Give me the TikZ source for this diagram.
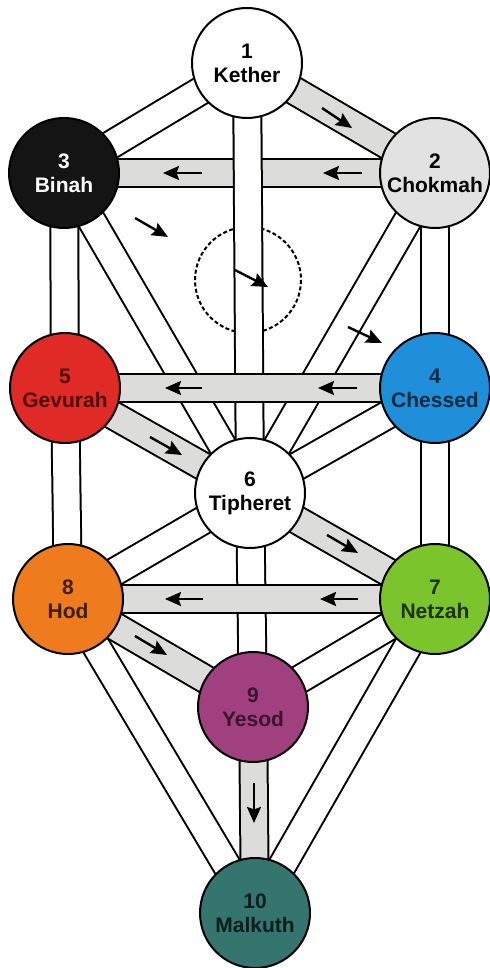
\documentclass[tikz,border=0pt]{standalone}
\usepackage{tikz, xcolor}
\usepackage{fontspec}
\setmainfont{Liberation Sans}
\usetikzlibrary{arrows.meta}
\newcommand{\pathwidth}{13pt}
\definecolor{pathgray}{HTML}{DCDCDA}
\definecolor{chokmahgray}{HTML}{E2E2E2}
\definecolor{binahblack}{HTML}{141414}
\definecolor{gevurahred}{HTML}{E02A26}
\definecolor{chessedblue}{HTML}{1E8FD8}
\definecolor{netzahgreen}{HTML}{7CC42C}
\definecolor{hodorange}{HTML}{EE7C1E}
\definecolor{yesodpurple}{HTML}{A0407E}
\definecolor{malkuthteal}{HTML}{357570}

\begin{document}
\begin{tikzpicture}[x=0.5pt, y=-0.5pt]
\useasboundingbox (0,0) rectangle (490,968);

\coordinate (kether)   at (247,63);
\coordinate (chokmah)  at (435,173);
\coordinate (binah)    at (64,173);
\coordinate (chessed)  at (435,388);
\coordinate (gevurah)  at (65,388);
\coordinate (tipheret) at (250,493);
\coordinate (netzah)   at (435,599);
\coordinate (hod)      at (68,599);
\coordinate (yesod)    at (253,707);
\coordinate (malkuth)  at (255,913);
\coordinate (daath)    at (248,280);

\tikzstyle{channel}=[line width=1pt, double=white, double distance=\pathwidth]
\tikzstyle{litchannel}=[channel, double=pathgray]
\tikzstyle{flash}=[line width=1.2pt, -{Stealth[length=8pt,width=7pt,inset=1.2pt]}]
\tikzstyle{every node}=[draw,
			circle,
			line width=1pt,
			minimum size=55pt,
			inner sep=0pt,
			align=center,
			font=\fontsize{10.5}{12}\selectfont\bfseries
			]


\draw[dash pattern=on 2pt off 1.2pt, line width=1pt] (daath) circle[radius=53];


\draw[litchannel] (chokmah) -- (binah);


\draw[channel] (kether) -- (binah);


\draw[litchannel] (kether) -- (chokmah);


\draw[channel] (kether) -- (tipheret);


\draw[channel] (binah) -- (gevurah);


\draw[channel] (chokmah) -- (chessed);


\draw[channel] (binah) -- (tipheret);


\draw[channel] (chokmah) -- (tipheret);


\draw[litchannel] (gevurah) -- (tipheret);


\draw[channel] (chessed) -- (tipheret);


\draw[litchannel] (chessed) -- (gevurah);


\draw[channel] (gevurah) -- (hod);


\draw[channel] (chessed) -- (netzah);


\draw[channel] (tipheret) -- (hod);


\draw[litchannel] (tipheret) -- (netzah);


\draw[channel] (tipheret) -- (yesod);


\draw[litchannel] (netzah) -- (hod);


\draw[channel] (hod) -- (malkuth);


\draw[channel] (netzah) -- (malkuth);


\draw[litchannel] (hod) -- (yesod);


\draw[channel] (netzah) -- (yesod);


\draw[litchannel] (yesod) -- (malkuth);


\draw[flash] (322,108) -- (352,128);

\draw[flash] (362,173) -- (323,173);

\draw[flash] (202,173) -- (163,173);

\draw[flash] (135,218) -- (168,237);

\draw[flash] (235,270) -- (268,287);

\draw[flash] (348,327) -- (382,343);

\draw[flash] (357,388) -- (318,388);

\draw[flash] (202,388) -- (165,388);

\draw[flash] (150,437) -- (182,455);

\draw[flash] (327,535) -- (358,553);

\draw[flash] (358,599) -- (320,599);

\draw[flash] (203,599) -- (165,599);

\draw[flash] (135,636) -- (167,655);

\draw[flash] (254,783) -- (254,823);


\node[fill=white] (s1) at (kether) {1\\Kether};

\node[fill=chokmahgray] (s2) at (chokmah) {2\\Chokmah};

\node[fill=binahblack, text=white] (s3) at (binah) {3\\Binah};

\node[fill=chessedblue, text=chessedblue!30!black] (s4) at (chessed) {4\\Chessed};

\node[fill=gevurahred, text=gevurahred!35!black] (s5) at (gevurah) {5\\Gevurah};

\node[fill=white] (s6) at (tipheret) {6\\Tipheret};

\node[fill=netzahgreen, text=netzahgreen!25!black] (s7) at (netzah) {7\\Netzah};

\node[fill=hodorange, text=hodorange!25!black] (s8) at (hod) {8\\Hod};

\node[fill=yesodpurple, text=yesodpurple!35!black] (s9) at (yesod) {9\\Yesod};

\node[fill=malkuthteal, text=malkuthteal!25!black] (s10) at (malkuth) {10\\Malkuth};

\end{tikzpicture}
\end{document}
